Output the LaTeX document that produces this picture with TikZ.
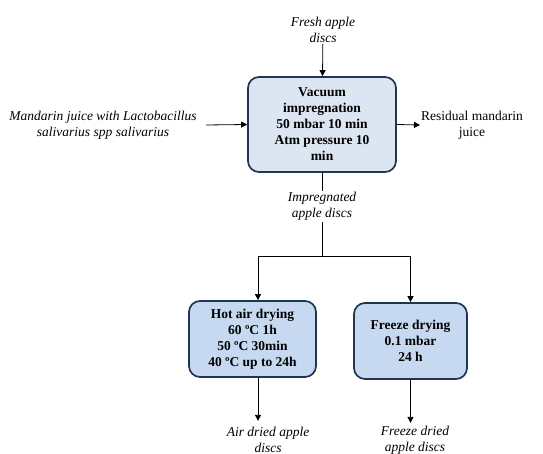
\documentclass[tikz,border=0pt]{standalone}
\usepackage{fontspec}
\setmainfont{Liberation Serif}
\usetikzlibrary{arrows.meta}

\definecolor{boxline}{HTML}{1F3550}
\definecolor{vifill}{HTML}{DCE6F2}
\definecolor{dryfill}{HTML}{C6D9F1}

\begin{document}
\begin{tikzpicture}[x=1pt, y=-1pt,
  stepbox/.style={draw=boxline, line width=1.7pt, rounded corners=11pt,
    font=\fontsize{13.5}{16}\selectfont\bfseries, align=center, inner sep=0pt},
  flowtext/.style={font=\fontsize{13.5}{16}\selectfont\itshape, align=center, inner sep=1pt},
  arr/.style={-{Triangle[length=6pt,width=6pt]}, line width=0.8pt}]

\useasboundingbox (0,0) rectangle (543,454); %% page size

% main step
\node[stepbox, fill=vifill, minimum width=148pt, minimum height=95pt]
  (vi) at (322,124.5) {Vacuum\\impregnation\\50 mbar 10 min\\Atm pressure 10\\min};

\node[flowtext] (fresh) at (323,30) {Fresh apple\\discs};
\node[flowtext] (mandarin) at (103,125) {Mandarin juice with Lactobacillus\\salivarius spp salivarius};
\node[flowtext, font=\fontsize{13.5}{16}\selectfont] (residual) at (472,125) {Residual mandarin\\juice};
\node[flowtext] (imp) at (322,206.5) {Impregnated\\apple discs};

\draw[arr] (fresh) -- (vi);
\draw[arr] (mandarin.east) ++(8,0) -- (vi.west);
\draw[arr] (vi.east) -- (residual.west);
\draw[line width=0.8pt] (vi) -- (imp);

% drying steps
\node[stepbox, fill=dryfill, minimum width=127pt, minimum height=76pt]
  (hot) at (252.5,339) {Hot air drying\\60 ºC 1h\\50 ºC 30min\\40 ºC up to 24h};
\node[stepbox, fill=dryfill, minimum width=113pt, minimum height=76pt]
  (freeze) at (410.5,341) {Freeze drying\\0.1 mbar\\24 h};

\coordinate (split) at (322,256);
\draw[line width=0.8pt] (imp) -- (split);
\draw[arr] (split) -| ([xshift=5.5pt]hot.north);
\draw[arr] (split) -| (freeze.north);

\node[flowtext] (airdried) at (268,440) {Air dried apple\\discs};
\node[flowtext] (freezedried) at (415,440) {Freeze dried\\apple discs};

\draw[arr] ([xshift=5.5pt]hot.south) -- ++(0,43);
\draw[arr] (freeze.south) -- ++(0,43);

\end{tikzpicture}
\end{document}
